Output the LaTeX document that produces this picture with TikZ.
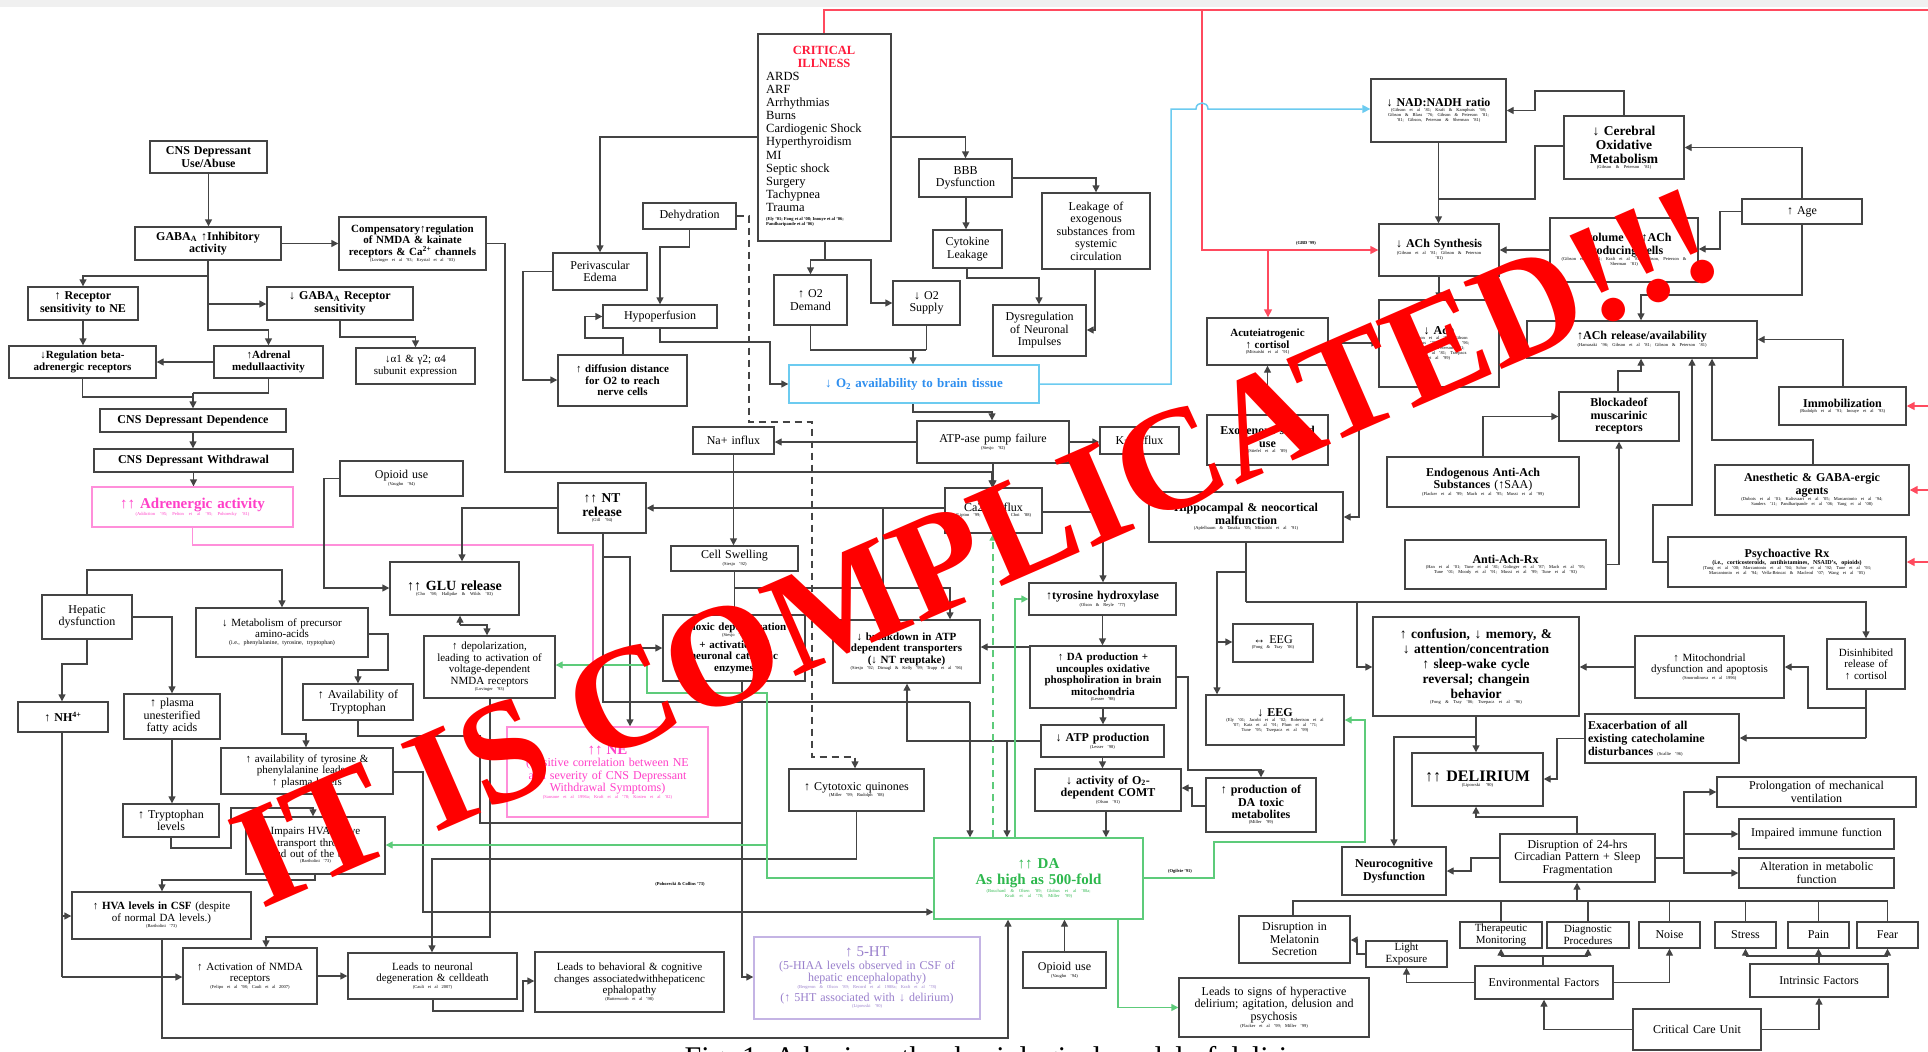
\documentclass[tikz,border=0pt]{standalone}
\usepackage{fontspec}
\setmainfont{Liberation Serif}
\usetikzlibrary{arrows.meta}
\hyphenpenalty=10000 \exhyphenpenalty=10000
\pgfdeclarelayer{bb}\pgfdeclarelayer{bg}\pgfsetlayers{bb,bg,main}
\definecolor{lnc}{HTML}{444444}
\definecolor{mgc}{HTML}{FF3FC8}
\definecolor{mgb}{HTML}{FF8FDA}
\definecolor{blc}{HTML}{2F8FEF}
\definecolor{blb}{HTML}{6CCBF0}
\definecolor{grc}{HTML}{2DB84D}
\definecolor{grb}{HTML}{5DCB7A}
\definecolor{pc}{HTML}{9A80CC}
\definecolor{pb}{HTML}{C4B4E4}
\definecolor{redl}{HTML}{FF4A5E}
\definecolor{critred}{HTML}{FF1A3A}
\newcommand\ct[1]{\par{\fontsize{4.5}{5}\selectfont\mdseries #1\par}}
\newcommand\B[7][]{\pgfmathsetmacro\bxW{#5-#3}\pgfmathsetmacro\bxH{#6-#4}\pgfmathsetmacro\bxT{#5-#3-6}\pgfmathsetmacro\bxX{(#3+#5)/2}\pgfmathsetmacro\bxY{(#4+#6)/2}%
\node[bx,minimum width=\bxW pt,minimum height=\bxH pt,text width=\bxT pt,#1] (#2) at (\bxX,\bxY) {#7};}
\tikzset{
 bx/.style={draw=lnc,line width=1.4pt,fill=white,align=center,inner sep=1pt,text=black,font=\bfseries\fontsize{12}{12.5}\selectfont},
 rg/.style={font=\fontsize{12}{12.5}\selectfont},
 f11/.style={font=\bfseries\fontsize{11}{11.5}\selectfont},
 r11/.style={font=\fontsize{11}{11.5}\selectfont},
 mgbox/.style={draw=mgb,text=mgc},
 blbox/.style={draw=blb,text=blc,font=\bfseries\fontsize{13}{13.5}\selectfont},
 grbox/.style={draw=grb,text=grc,font=\bfseries\fontsize{15}{16}\selectfont},
 pbox/.style={draw=pb,text=pc,font=\fontsize{12}{12.5}\selectfont},
 wire/.style={draw=lnc,line width=1.4pt},
 ar/.style={wire,-{Triangle[length=7pt,width=7pt]}},
 dsh/.style={wire,dashed,dash pattern=on 7pt off 5pt,-{Triangle[length=7pt,width=7pt]}},
 mgw/.style={draw=mgb,line width=1.4pt,-{Triangle[length=7pt,width=7pt]}},
 redw/.style={draw=redl,line width=1.5pt},
 redar/.style={redw,-{Triangle[length=8pt,width=8pt]}},
 blar/.style={draw=blb,line width=1.5pt,-{Triangle[length=8pt,width=8pt]}},
 grar/.style={draw=grb,line width=1.4pt,-{Triangle[length=7pt,width=7pt]}},
 lbl/.style={font=\fontsize{4.5}{5}\selectfont\bfseries,inner sep=0}
}
\begin{document}
\begin{tikzpicture}[x=1pt,y=-1pt]
\begin{pgfonlayer}{bb}
\fill[white] (0,0) rectangle (1928,1052);
\fill[black!6] (0,0) rectangle (1928,7);
\end{pgfonlayer}
\useasboundingbox (0,0) rectangle (1928,1052);
% ---------------- boxes
\B{n1}{150}{141}{267}{173}{CNS Depressant\\Use/Abuse}
\B{n2}{135}{227}{281}{260}{GABA\textsubscript{A} ↑Inhibitory\\activity}
\B[f11]{n3}{339}{217}{486}{270}{Compensatory↑regulation of NMDA \& kainate receptors \& Ca\textsuperscript{2+} channels\ct{(Lovinger et al '93; Krystal et al '03)}}
\B{n4}{28}{287}{138}{320}{↑ Receptor\\sensitivity to NE}
\B{n5}{267}{287}{413}{320}{↓ GABA\textsubscript{A} Receptor\\sensitivity}
\B[f11]{n6}{9}{346}{156}{378}{↓Regulation beta-\\adrenergic receptors}
\B[f11]{n7}{214}{346}{323}{378}{↑Adrenal\\medullaactivity}
\B[r11]{n8}{356}{348}{475}{384}{↓α1 \& γ2; α4\\subunit expression}
\B{n9}{100}{409}{286}{432}{CNS Depressant Dependence}
\B{n10}{94}{449}{293}{472}{CNS Depressant Withdrawal}
\B[mgbox,font=\bfseries\fontsize{15}{16}\selectfont]{n11}{92}{487}{293}{527}{↑↑ Adrenergic activity\ct{(Addiction '95; Pelton et al '95; Pohorecky '81)}}
\B[rg]{n12}{340}{461}{463}{496}{Opioid use\ct{(Vaughn '94)}}
\B[font=\bfseries\fontsize{14}{15}\selectfont]{n13}{390}{562}{519}{615}{↑↑ GLU release\ct{(Cho '98; Hallpike \& Wilds '03)}}
\B[rg]{n14}{42}{595}{132}{639}{Hepatic\\dysfunction}
\B[r11]{n15}{196}{608}{368}{657}{↓ Metabolism of precursor\\amino-acids\par{\fontsize{6}{7}\selectfont (i.e., phenylalanine, tyrosine, tryptophan)\par}}
\B[r11]{n16}{424}{636}{555}{698}{↑ depolarization,\\leading to activation of\\voltage-dependent\\NMDA receptors\ct{(Lovinger '93)}}
\B[rg]{n17}{303}{684}{413}{720}{↑ Availability of\\Tryptophan}
\B{n18}{18}{702}{108}{732}{↑ NH\textsuperscript{4+}}
\B[rg]{n19}{124}{694}{220}{739}{↑ plasma\\unesterified\\fatty acids}
\B[r11]{n20}{221}{748}{393}{794}{↑ availability of tyrosine \&\\phenylalanine leads to\\↑ plasma levels}
\B[rg]{n21}{123}{804}{219}{837}{↑ Tryptophan\\levels}
\B[r11]{n22}{246}{817}{385}{874}{Impairs HVA active\\transport through\\and out of the brain\ct{(Bartholini '73)}}
\B[f11]{n23}{72}{892}{251}{939}{↑ HVA levels in CSF \mdseries(despite\\of normal DA levels.)\ct{(Bartholini '73)}}
\B[r11]{n24}{183}{948}{317}{1004}{↑ Activation of NMDA\\receptors\ct{(Felipo et al '98; Cauli et al 2007)}}
\B[r11]{n25}{348}{953}{517}{999}{Leads to neuronal\\degeneration \& celldeath\ct{(Cauli et al 2007)}}
\B[r11]{n26}{535}{952}{724}{1012}{Leads to behavioral \& cognitive\\changes associatedwithhepaticenc\\ephalopathy\ct{(Butterworth et al '98)}}
\B[pbox]{n27}{754}{937}{980}{1019}{{\fontsize{15}{16}\selectfont ↑ 5-HT}\\(5-HIAA levels observed in CSF of\\hepatic encephalopathy)\ct{(Bergeron \& Olson '89; Record et al 1988a; Kraft et al '78)}(↑ 5HT associated with ↓ delirium)\ct{(Lipowski '90)}}
\B[mgbox,rg]{n28}{507}{727}{708}{817}{{\bfseries\fontsize{15}{16}\selectfont ↑↑ NE}\\(Positive correlation between NE\\and severity of CNS Depressant\\Withdrawal Symptoms)\ct{(Sansone et al 1996a; Kraft et al '78; Kosten et al '82)}}
\B[rg]{n29}{789}{769}{924}{811}{↑ Cytotoxic quinones\ct{(Miller '99; Rudolph '08)}}
\B[grbox]{n30}{934}{838}{1143}{919}{↑↑ DA\\As high as 500-fold\ct{(Bouchard \& Olsen '89; Globus et al '88a;\\Kraft et al '78; Miller '99)}}
\B[rg]{n31}{1023}{952}{1106}{988}{Opioid use\ct{(Vaughn '94)}}
\B[rg]{n32}{1179}{978}{1369}{1037}{Leads to signs of hyperactive\\delirium; agitation, delusion and\\psychosis\ct{(Flacker et al '99; Miller '99)}}
\B{n33}{1041}{725}{1164}{757}{↓ ATP production\ct{(Lesser '98)}}
\B{n34}{1035}{769}{1181}{811}{↓ activity of O\textsubscript{2}-\\dependent COMT\ct{(Olson '91)}}
\B{n35}{1206}{778}{1316}{832}{↑ production of\\DA toxic\\metabolites\ct{(Miller '99)}}
\B{n36}{1206}{695}{1344}{745}{↓ EEG\ct{(Ely '01; Jacobi et al '02; Robertson et al\\'07; Katz et al '91; Plum et al '71;\\Tune '95; Trzepacz et al '99)}}
\B{n37}{1342}{847}{1446}{895}{Neurocognitive\\Dysfunction}
\B[rg]{n38}{1239}{916}{1350}{963}{Disruption in\\Melatonin\\Secretion}
\B[font=\fontsize{11}{11.5}\selectfont]{n39}{1366}{941}{1447}{967}{Light\\Exposure}
\B[align=left,font=\bfseries\fontsize{12}{13}\selectfont]{n40}{1585}{714}{1739}{763}{Exacerbation of all\\existing catecholamine\\disturbances {\fontsize{4.5}{5}\selectfont\mdseries (Scallie '96)}}
\B[font=\bfseries\fontsize{16}{17}\selectfont]{n41}{1412}{753}{1543}{806}{↑↑ DELIRIUM\ct{(Lipowski '90)}}
\B[rg]{n42}{1717}{777}{1916}{807}{Prolongation of mechanical\\ventilation}
\B[rg]{n43}{1739}{819}{1894}{849}{Impaired immune function}
\B[rg]{n44}{1739}{858}{1894}{888}{Alteration in metabolic\\function}
\B[rg]{n45}{1500}{834}{1655}{882}{Disruption of 24-hrs\\Circadian Pattern + Sleep\\Fragmentation}
\B[r11]{n46}{1460}{922}{1542}{948}{Therapeutic\\Monitoring}
\B[r11]{n47}{1547}{922}{1629}{948}{Diagnostic\\Procedures}
\B[rg]{n48}{1639}{922}{1700}{948}{Noise}
\B[rg]{n49}{1715}{922}{1776}{948}{Stress}
\B[rg]{n50}{1788}{922}{1849}{948}{Pain}
\B[rg]{n51}{1857}{922}{1918}{948}{Fear}
\B[rg]{n52}{1475}{966}{1613}{999}{Environmental Factors}
\B[rg]{n53}{1750}{964}{1888}{997}{Intrinsic Factors}
\B[rg]{n54}{1633}{1009}{1761}{1050}{Critical Care Unit}
\B{n55}{1559}{392}{1679}{441}{Blockadeof\\muscarinic\\receptors}
\B{n56}{1779}{387}{1906}{425}{Immobilization\ct{(Rudolph et al '91; Inouye et al '93)}}
\B{n57}{1387}{457}{1579}{507}{Endogenous Anti-Ach\\Substances \mdseries(↑SAA)\ct{(Flacker et al '99; Mach et al '95; Mussi et al '99)}}
\B{n58}{1715}{465}{1909}{515}{Anesthetic \& GABA-ergic\\agents\ct{(Dubois et al '01; Kalisvaart et al '05; Marcantonio et al '94;\\Sanders '11; Pandharipande et al '06; Yang et al '08)}}
\B{n59}{1405}{540}{1606}{589}{Anti-Ach-Rx\ct{(Han et al '01; Tune et al '81; Golinger et al '87; Mach et al '95;\\Tune '01; Moody et al '91; Mussi et al '99; Tune et al '93)}}
\B{n60}{1668}{537}{1906}{587}{Psychoactive Rx\par{\fontsize{6}{7}\selectfont (i.e., corticosteroids, antihistamines, NSAID's, opioids)\par}\ct{(Tung et al '00; Marcantonio et al '94; Schor et al '92; Tune et al '93;\\Marcantonio et al '94; Vella-Brincat \& Macleod '07; Wang et al '05)}}
\B[r11]{n61}{1635}{636}{1784}{698}{↑ Mitochondrial\\dysfunction and apoptosis\ct{(Smorodinova et al 1996)}}
\B[r11]{n62}{1827}{639}{1905}{689}{Disinhibited\\release of\\↑ cortisol}
\B[font=\bfseries\fontsize{13.5}{15}\selectfont]{n63}{1373}{617}{1579}{716}{↑ confusion, ↓ memory, \&\\↓ attention/concentration\\↑ sleep-wake cycle\\reversal; changein\\behavior\ct{(Fong \& Tsay '06; Trzepacz et al '96)}}
\B{n64}{1371}{79}{1506}{142}{↓ NAD:NADH ratio\ct{(Gibson et al '81; Kraft \& Kamphuis '98;\\Gibson \& Blass '76; Gibson \& Peterson '81;\\'81; Gibson, Peterson \& Sherman '81)}}
\B[font=\bfseries\fontsize{13.5}{14}\selectfont]{n65}{1564}{116}{1684}{179}{↓ Cerebral\\Oxidative\\Metabolism\ct{(Gibson \& Peterson '81)}}
\B[rg]{n66}{1742}{199}{1862}{224}{↑ Age}
\B{n67}{1550}{218}{1698}{282}{↓ volume of ↑ACh\\producing cells\ct{(Gibson et al '81; Kraft et al '81; Gibson, Peterson \&\\Sherman '81)}}
\B{n68}{1379}{224}{1499}{276}{↓ ACh Synthesis\ct{(Gibson et al '81; Gibson \& Peterson\\'81)}}
\B{n69}{1379}{300}{1499}{387}{↓ Ach\ct{(Gibson et al '81; Gibson\\\& Blass '76; Trzepacz '96;\\Gibson \& Peterson '81;\\Tune et al '81; Trzepacz\\et al '99)}}
\B{n70}{1527}{321}{1757}{358}{↑ACh release/availability\ct{(Hamasaki '96; Gibson et al '81; Gibson \& Peterson '81)}}
\B[f11]{n71}{1207}{318}{1328}{365}{Acuteiatrogenic\\↑ cortisol\ct{(Mitsuishi et al '91)}}
\B{n72}{1207}{415}{1328}{465}{Exogenous steroid\\use\ct{(Stiefel et al '89)}}
\B{n73}{1149}{492}{1343}{542}{Hippocampal \& neocortical\\malfunction\ct{(Apfelbaum \& Tanaka '05; Mitsuishi et al '91)}}
\B{n74}{1029}{583}{1176}{615}{↑tyrosine hydroxylase\ct{(Olson \& Reyle '77)}}
\B[f11]{n75}{1030}{646}{1176}{708}{↑ DA production +\\uncouples oxidative\\phospholiration in brain\\mitochondria\ct{(Lesser '98)}}
\B[rg]{n76}{1233}{624}{1313}{662}{↔ EEG\ct{(Fong \& Tsay '06)}}
\B[rg]{n77}{1100}{427}{1179}{454}{K+ efflux}
\B[rg]{n78}{917}{421}{1069}{463}{ATP-ase pump failure\ct{(Siesjo '92)}}
\B[blbox]{n79}{789}{365}{1039}{403}{↓ O\textsubscript{2} availability to brain tissue}
\B[rg]{n80}{945}{488}{1042}{533}{Ca2+ influx\ct{(Lipton '99; Siesjo '92; Choi '88)}}
\B[rg]{n81}{693}{427}{774}{454}{Na+ influx}
\B[font=\bfseries\fontsize{13.5}{14}\selectfont]{n82}{558}{483}{646}{533}{↑↑ NT\\release\ct{(Gill '94)}}
\B[rg]{n83}{671}{546}{798}{571}{Cell Swelling\ct{(Siesjo '92)}}
\B[f11]{n84}{663}{615}{805}{681}{Anoxic depolarization\ct{(Siesjo '92)}+ activation of\\neuronal catabolic\\enzymes}
\B[f11]{n85}{833}{620}{980}{683}{↓ breakdown in ATP\\dependent transporters\\(↓ NT reuptake)\ct{(Siesjo '92; Dirnagl \& Kelly '99; Trapp et al '96)}}
\B[f11]{n86}{558}{355}{687}{406}{↑ diffusion distance\\for O2 to reach\\nerve cells}
\B[rg]{n87}{603}{305}{717}{328}{Hypoperfusion}
\B[rg]{n88}{643}{203}{736}{229}{Dehydration}
\B[rg]{n89}{553}{253}{647}{290}{Perivascular\\Edema}
\B{n90}{758}{34}{891}{241}{}
\node[font=\bfseries\fontsize{12.5}{13}\selectfont,text=critred,align=center,inner sep=0] (crittitle) at (824,57) {CRITICAL\\ILLNESS};
\node[anchor=north west,align=left,font=\fontsize{12.5}{13.1}\selectfont,inner sep=0] (critlist) at (766,72) {ARDS\\ARF\\Arrhythmias\\Burns\\Cardiogenic Shock\\Hyperthyroidism\\MI\\Septic shock\\Surgery\\Tachypnea\\Trauma};
\node[anchor=north west,align=left,lbl] (critcite) at (766,217) {(Ely '01; Fong et al '08; Inouye et al '06;\\Pandharipande et al '06)};
\B[rg]{n91}{774}{275}{847}{325}{↑ O2\\Demand}
\B[rg]{n92}{893}{281}{960}{325}{↓ O2\\Supply}
\B[rg]{n93}{919}{159}{1012}{197}{BBB\\Dysfunction}
\B[rg]{n94}{933}{230}{1002}{268}{Cytokine\\Leakage}
\B[rg]{n95}{1042}{193}{1150}{269}{Leakage of\\exogenous\\substances from\\systemic\\circulation}
\B[rg]{n96}{993}{305}{1086}{356}{Dysregulation\\of Neuronal\\Impulses}
% labels
\node[lbl] (lab1) at (680,884) {(Pohorecki \& Collins '73)};
\node[lbl] (lab2) at (1180,871) {(Ogilvie '91)};
\node[lbl] (lab3) at (1306,243) {(GBD '99)};
\node[anchor=north,inner sep=0,font=\fontsize{30}{30}\selectfont] (cap) at (1005,1046) {Fig. 1. A basic pathophysiological model of delirium};
% ---------------- wires
\begin{pgfonlayer}{bg}
\draw[ar] (n1.south) -- (n2.north -| n1.south);
\draw[ar] (n2.east) -- (n3.west |- n2.east);
\draw[ar] (n2.south) -- (n2.south |- 0,330) -| (n7.north);
\draw[ar] (n2.south |- 0,276) -| (n4.north);
\draw[ar] (n2.south |- 0,304) -- (n5.west |- 0,304);
\draw[ar] (n5.south -| 340,0) |- (414,337) -| (n8.north);
\draw[ar] (n4.south) -- (n6.north -| n4.south);
\draw[ar] (n7.west) -- (n6.east |- n7.west);
\draw[wire] (n6.south) |- (193,397);
\draw[wire] (n7.south) |- (193,393);
\draw[ar] (193,393) -- (n9.north -| 193,0);
\draw[ar] (n9.south) -- (n10.north -| n9.south);
\draw[ar] (n10.south) -- (n11.north -| n10.south);
\draw[mgw] (n11.south) |- (593,545) -- (n28.north -| 593,0);
\draw[ar] (n3.east) -| (505,472) -- (992,472) -- (n80.north -| 992,0);
\draw[ar] (n12.west) -| (324,588) -- (n13.west |- 0,588);
\draw[ar] (n82.west) -| (n13.north -| 462,0);
\draw[ar] (n80.west |- 0,508) -- (n82.east);
\draw[ar] (883,508) -- (n85.north -| 883,0);
\draw[wire] (n82.south -| 603,0) -- (603,702) -- (970,702);
\draw[ar] (970,702) -- (n30.north -| 970,0);
\draw[ar] (603,557) -| (n28.north -| 630,0);
\draw[ar] (630,648) -- (n84.west |- 0,648);
\draw[ar] (n83.south) -- (n84.north -| n83.south);
\draw[ar] (n83.south |- 0,588) -- (950,588) -- (n85.north -| 950,0);
\draw[ar] (n81.south) -- (n83.north -| n81.south);
\draw[ar] (n78.west) -- (n81.east |- n78.west);
\draw[ar] (n78.east) -- (n77.west |- n78.east);
\draw[ar] (n78.south) -- (n80.north -| n78.south);
\draw[ar] (n79.south -| 913,0) |- (992,412) -- (n78.north -| 992,0);
\draw[wire] (n91.south) |- (926,350);
\draw[wire] (n92.south) -- (n92.south |- 0,350);
\draw[ar] (913,350) -- (n79.north -| 913,0);
\draw[ar] (n90.west |- 0,137) -| (n89.north);
\draw[ar] (n90.east |- 0,137) -| (n93.north);
\draw[wire] (n90.south -| 825,0) -- (825,260);
\draw[ar] (825,260) -| (n91.north);
\draw[ar] (825,260) -| (871,303) -- (n92.west |- 0,303);
\draw[ar] (n88.south) |- (660,247) -- (n87.north -| 660,0);
\draw[dsh] (n88.east) -- (749,216) -- (749,422) -- (812,422) -- (812,757) -- (855,757) -- (n29.north -| 855,0);
\draw[ar] (n86.north -| 623,0) |- (585,338) |- (n87.west);
\draw[ar] (n87.south -| 660,0) |- (770,342) |- (n79.west);
\draw[ar] (n89.west) -| (523,380) -- (n86.west |- 0,380);
\draw[ar] (n93.south -| 966,0) -- (n94.north -| 966,0);
\draw[ar] (n93.east |- 0,178) -| (n95.north);
\draw[ar] (n94.south -| 967,0) |- (1039,278) -- (n96.north -| 1039,0);
\draw[ar] (n95.south -| 1095,0) |- (n96.east |- 0,330);
% red
\draw[redw] (n90.north -| 824,0) -- (824,10) -- (1928,10);
\draw[redar] (1202,10) -- (1202,250) -- (n68.west |- 0,250);
\draw[redar] (1268,250) -- (n71.north -| 1268,0);
\draw[redar] (1928,406) -- (n56.east |- 0,406);
\draw[redar] (1928,490) -- (n58.east |- 0,490);
\draw[redar] (1928,562) -- (n60.east |- 0,562);
% blue
\draw[blar] (n79.east) -- (1171,384) -- (1171,109) -- (1196,109) .. controls (1196,101) and (1208,101) .. (1208,109) -- (n64.west |- 0,109);
% top right
\draw[ar] (n64.south) -- (n68.north -| n64.south);
\draw[ar] (n65.north) |- (1535,91) |- (n64.east);
\draw[wire] (n65.west |- 0,146) -| (1535,199) -- (n64.south |- 0,199);
\draw[ar] (n66.north) |- (n65.east);
\draw[ar] (n66.west) -| (1720,249) -- (n67.east |- 0,249);
\draw[ar] (n66.south) |- (1641,295) -- (n70.north -| 1641,0);
\draw[ar] (n67.west) -- (n68.east |- n67.west);
\draw[ar] (n68.south) -- (n69.north -| n68.south);
\draw[ar] (n71.east |- 0,343) -- (n69.west |- 0,343);
\draw[ar] (n72.north) -- (n71.south -| n72.north);
\draw[ar] (n69.south -| 1359,0) |- (n73.east);
\draw[wire] (n73.south -| 1246,0) -- (1246,602);
\draw[ar] (1246,572) -| (n36.north -| 1217,0);
\draw[ar] (1217,642) -- (n76.west |- 0,642);
\draw[ar] (1246,602) -| (1357,667) -- (n63.west |- 0,667);
\draw[ar] (1357,602) -| (n62.north);
\draw[ar] (n55.north -| 1618,0) |- (1641,371) -- (n70.south -| 1641,0);
\draw[ar] (n60.west) -| (1653,505) -| (n70.south -| 1692,0);
\draw[ar] (n58.north -| 1813,0) |- (1712,440) -- (n70.south -| 1712,0);
\draw[ar] (n56.north -| 1843,0) |- (n70.east);
\draw[ar] (n57.north) |- (n55.west);
\draw[ar] (n59.east) -| (n55.south);
% right lower
\draw[ar] (n61.west) -- (n63.east |- n61.west);
\draw[wire] (n62.south) -- (n62.south |- 0,738);
\draw[ar] (n62.south |- 0,708) -| (1808,667) -- (n61.east |- 0,667);
\draw[ar] (n62.south |- 0,738) -- (n40.east |- 0,738);
\draw[ar] (n40.west) -| (1557,779) -- (n41.east |- 0,779);
\draw[ar] (n63.south -| 1476,0) -- (n41.north -| 1476,0);
\draw[ar] (1476,737) -| (n37.north);
\draw[ar] (n45.north -| 1577,0) |- (1476,817) -- (n41.south -| 1476,0);
\draw[ar] (n45.west) -| (1471,871) -- (n37.east |- 0,871);
\draw[wire] (n45.east) -- (1684,858);
\draw[ar] (1684,858) |- (n42.west);
\draw[ar] (1684,834) -- (n43.west |- 0,834);
\draw[ar] (1684,858) |- (n44.west);
\draw[wire] (n38.north -| 1293,0) |- (1888,901);
\draw[ar] (1577,901) -- (n45.south -| 1577,0);
\draw[wire] (n46.north) -- (n46.north |- 0,901);
\draw[wire] (n47.north) -- (n47.north |- 0,901);
\draw[wire] (n48.north) -- (n48.north |- 0,901);
\draw[wire] (n49.north) -- (n49.north |- 0,901);
\draw[wire] (n50.north) -- (n50.north |- 0,901);
\draw[wire] (n51.north) -- (n51.north |- 0,901);
\draw[wire] (n52.north -| 1543,0) -- (1543,956);
\draw[wire] (n46.south |- 0,956) -- (n47.south |- 0,956);
\draw[ar] (n46.south |- 0,956) -- (n46.south);
\draw[ar] (n47.south |- 0,956) -- (n47.south);
\draw[ar] (n52.east) -| (n48.south);
\draw[ar] (n52.west) -| (n39.south);
\draw[ar] (n39.west) -| (1357,940) -- (n38.east |- 0,940);
\draw[wire] (n53.north) -- (n53.north |- 0,956);
\draw[wire] (n49.south |- 0,956) -- (n51.south |- 0,956);
\draw[ar] (n49.south |- 0,956) -- (n49.south);
\draw[ar] (n50.south |- 0,956) -- (n50.south);
\draw[ar] (n51.south |- 0,956) -- (n51.south);
\draw[ar] (n54.west) -| (n52.south);
\draw[ar] (n54.east) -| (n53.south);
% left lower
\draw[ar] (n14.north) |- (282,570) -- (n15.north -| 282,0);
\draw[ar] (n14.east |- 0,617) -| (n19.north);
\draw[ar] (n14.south) |- (62,664) -- (n18.north -| 62,0);
\draw[ar] (n15.east |- 0,634) -| (388,670) -| (n17.north);
\draw[ar] (n15.south) |- (306,734) -- (n20.north -| 306,0);
\draw[ar] (n19.south) -- (n21.north -| n19.south);
\draw[ar] (n21.south) |- (231,848) |- (313,808) -- (n22.north -| 313,0);
\draw[ar] (n22.south -| 315,0) |- (162,880) -- (n23.north -| 162,0);
\draw[wire] (n18.south -| 62,0) -- (62,977);
\draw[ar] (62,977) -- (n24.west |- 0,977);
\draw[ar] (62,916) -- (n23.west |- 0,916);
\draw[ar] (n23.south -| 162,0) |- (1008,1038) -- (n30.south -| 1008,0);
\draw[ar] (n31.north) -- (n30.south -| n31.north);
\draw[ar] (n24.east) -- (n25.west |- n24.east);
\draw[ar] (n25.south -| 433,0) |- (523,1011) |- (n26.west |- 0,981);
\draw[ar] (n16.south -| 490,0) |- (266,937) -- (n24.north -| 266,0);
\draw[ar] (460,625) -- (n13.south -| 460,0);
\draw[ar] (460,625) -- (487,625) -- (n16.north -| 487,0);
\draw[ar] (n29.south) |- (432,859) -- (n25.north -| 432,0);
\draw[ar] (n20.east |- 0,772) -| (423,912) -- (n30.west |- 0,912);
\draw[wire] (n17.south -| 358,0) |- (480,736) |- (742,823);
\draw[ar] (n84.south -| 742,0) -- (742,977) -- (n27.west |- 0,977);
% middle right
\draw[ar] (n80.east |- 0,512) -| (n74.north -| 1103,0);
\draw[ar] (n74.south) -- (n75.north -| n74.south);
\draw[ar] (n75.south) -- (n33.north -| n75.south);
\draw[ar] (n33.south) -- (n34.north -| n33.south);
\draw[ar] (n34.south -| 1106,0) -- (n30.north -| 1106,0);
\draw[ar] (n75.east |- 0,677) -| (1188,770) -| (n35.north);
\draw[ar] (n35.west |- 0,806) -| (1192,788) -- (n34.east |- 0,788);
\draw[ar] (n33.west) -| (n85.south -| 907,0);
\draw[ar] (1007,741) -- (n30.north -| 1007,0);
\draw[ar] (n75.west |- 0,647) -- (n85.east |- 0,647);
% green
\draw[grar] (n30.east |- 0,878) -| (1214,842) -| (1365,720) -- (n36.east |- 0,720);
\draw[grar] (n30.south -| 1118,0) |- (n32.west);
\draw[grar] (n30.north -| 1015,0) |- (n74.west);
\draw[grar,dashed,dash pattern=on 7pt off 5pt] (n30.north -| 993,0) -- (n80.south -| 993,0);
\draw[grar] (n30.west |- 0,878) -| (767,693) -| (647,665) -- (n16.east |- 0,665);
\draw[grar] (767,845) -- (n22.east |- 0,845);
\end{pgfonlayer}
% overlay
\node[rotate=23.5,anchor=base,text=red,font=\bfseries\fontsize{145}{145}\selectfont,inner sep=0] (warn) at (995,590) {IT IS COMPLICATED!!!};
\end{tikzpicture}
\end{document}
